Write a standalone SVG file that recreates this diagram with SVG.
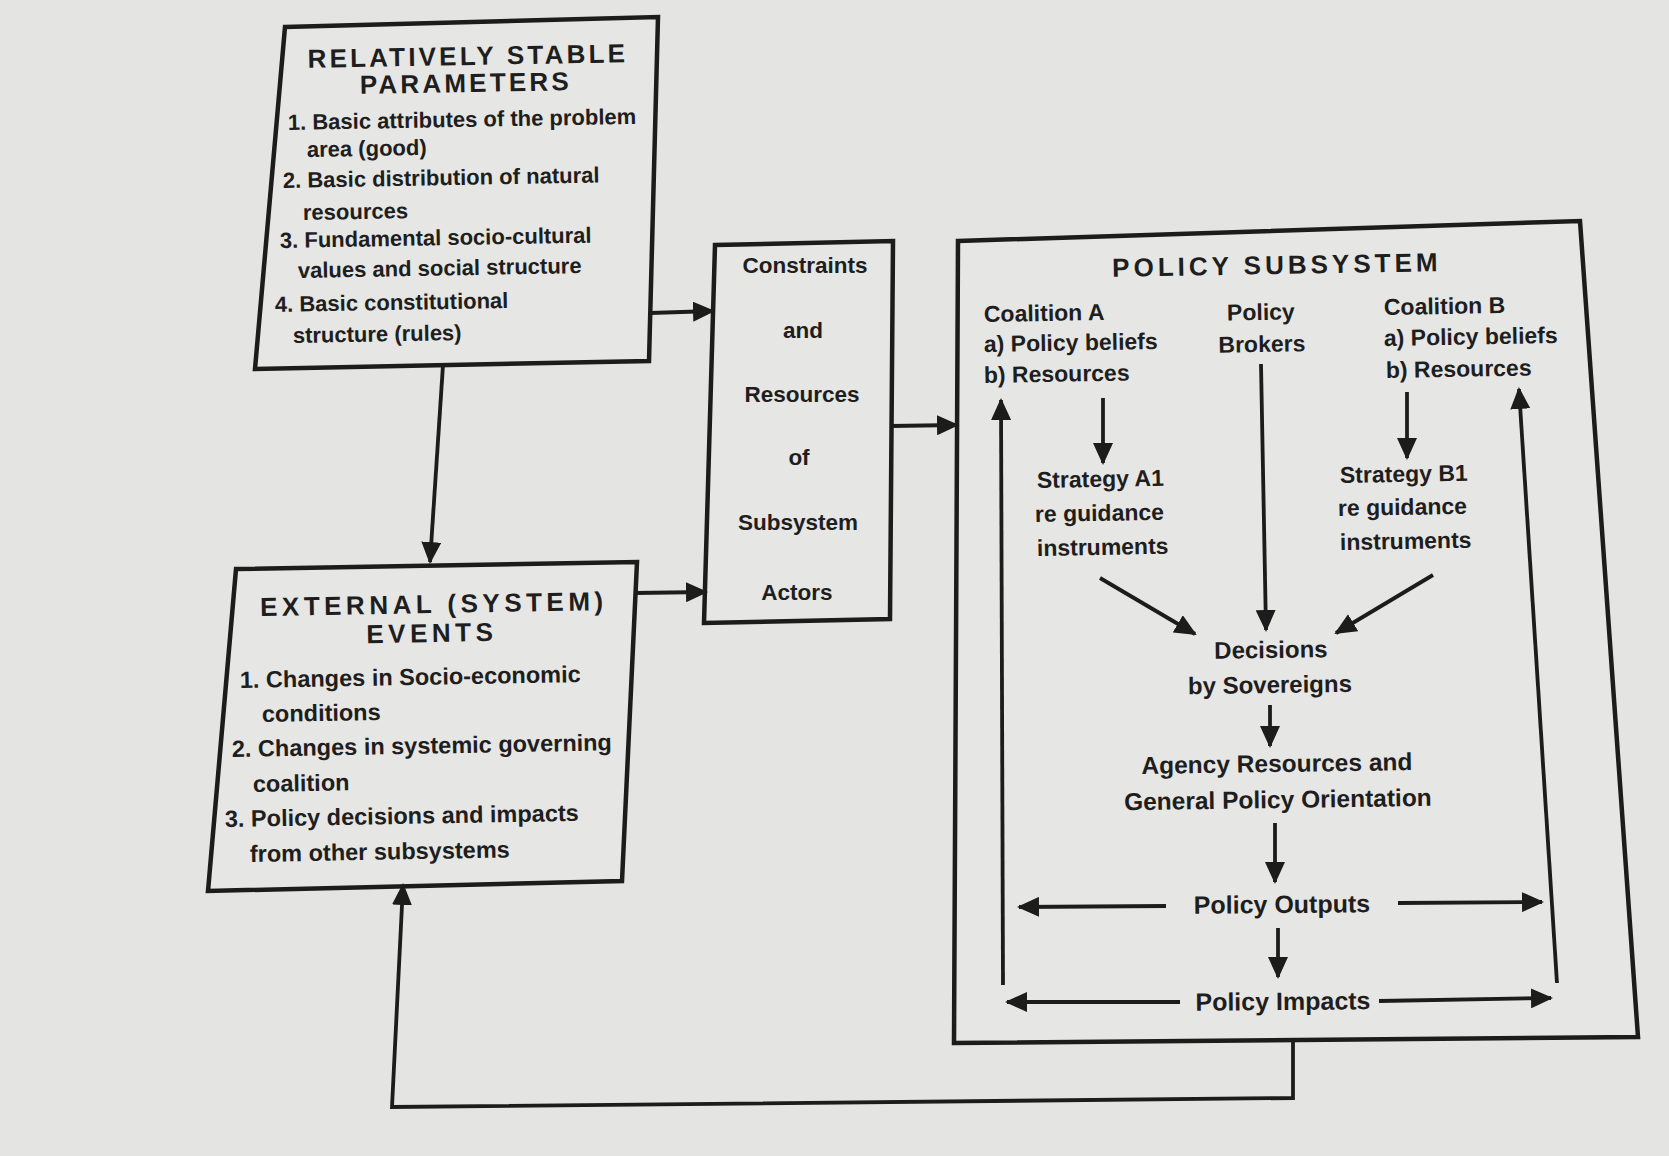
<svg xmlns="http://www.w3.org/2000/svg" width="1669" height="1156" viewBox="0 0 1669 1156">
<style>
.box{fill:#e6e6e4;stroke:#1c1c1c;stroke-width:4.5;stroke-linejoin:miter}
.ln{fill:none;stroke:#1c1c1c;stroke-width:3.8;marker-end:url(#ah)}
text{font-family:"Liberation Sans",Arial,sans-serif;font-weight:bold;fill:#1e1e1e}
.h{font-size:26px;letter-spacing:3.2px;text-anchor:middle}
.s{font-size:22px}
.m{font-size:23px}
.l{font-size:24.5px}
.c{text-anchor:middle}
</style>
<defs>
<marker id="ah" markerUnits="userSpaceOnUse" viewBox="0 0 22 20" refX="20" refY="10" markerWidth="22" markerHeight="20" orient="auto">
<path d="M0,0 L22,10 L0,20 Z" fill="#1c1c1c"/>
</marker>
</defs>
<rect x="0" y="0" width="1669" height="1156" fill="#e4e4e2"/>

<g id="stable-parameters">
<path class="box" d="M285,27 L658,17 L649,361 L255,369 Z"/>
<text class="h" x="468" y="65" transform="rotate(-1 468 65)">RELATIVELY STABLE</text>
<text class="h" x="466" y="92" transform="rotate(-1 466 92)">PARAMETERS</text>
<text class="s" x="288" y="130" transform="rotate(-1 288 130)">1. Basic attributes of the problem</text>
<text class="s" x="307" y="157" transform="rotate(-1 307 157)">area (good)</text>
<text class="s" x="283" y="188" transform="rotate(-1 283 188)">2. Basic distribution of natural</text>
<text class="s" x="303" y="220" transform="rotate(-1 303 220)">resources</text>
<text class="s" x="280" y="248" transform="rotate(-1 280 248)">3. Fundamental socio-cultural</text>
<text class="s" x="298" y="278" transform="rotate(-1 298 278)">values and social structure</text>
<text class="s" x="275" y="312" transform="rotate(-1 275 312)">4. Basic constitutional</text>
<text class="s" x="293" y="343" transform="rotate(-1 293 343)">structure (rules)</text>
</g>

<g id="external-events">
<path class="box" d="M236,569 L637,562 L622,881 L208,891 Z"/>
<text class="h" x="434" y="613" style="letter-spacing:4.5px" transform="rotate(-1 434 613)">EXTERNAL (SYSTEM)</text>
<text class="h" x="432" y="642" style="letter-spacing:4.5px" transform="rotate(-1 432 642)">EVENTS</text>
<text class="m" x="240" y="688" style="font-size:23.5px" transform="rotate(-1 240 688)">1. Changes in Socio-economic</text>
<text class="m" x="262" y="722" style="font-size:23.5px" transform="rotate(-1 262 722)">conditions</text>
<text class="m" x="232" y="757" style="font-size:23.5px" transform="rotate(-1 232 757)">2. Changes in systemic governing</text>
<text class="m" x="253" y="792" style="font-size:23.5px" transform="rotate(-1 253 792)">coalition</text>
<text class="m" x="225" y="827" style="font-size:23.5px" transform="rotate(-1 225 827)">3. Policy decisions and impacts</text>
<text class="m" x="250" y="862" style="font-size:23.5px" transform="rotate(-1 250 862)">from other subsystems</text>
</g>

<g id="constraints-resources">
<path class="box" d="M715,245 L893,241 L890,619 L704,623 Z"/>
<text class="s c" x="805" y="273" style="font-size:22.5px">Constraints</text>
<text class="s c" x="803" y="338" style="font-size:22.5px">and</text>
<text class="s c" x="802" y="402" style="font-size:22.5px">Resources</text>
<text class="s c" x="799" y="465" style="font-size:22.5px">of</text>
<text class="s c" x="798" y="530" style="font-size:22.5px">Subsystem</text>
<text class="s c" x="797" y="600" style="font-size:22.5px">Actors</text>
</g>

<g id="policy-subsystem">
<path class="box" d="M958,241 L1580,221 L1638,1037 L954,1043 Z"/>
<text class="h" x="1277" y="274" style="letter-spacing:4px" transform="rotate(-1 1277 274)">POLICY SUBSYSTEM</text>
</g>

<g id="coalition-a">
<text class="m" x="984" y="322" transform="rotate(-1 984 322)">Coalition A</text>
<text class="m" x="984" y="352" transform="rotate(-1 984 352)">a) Policy beliefs</text>
<text class="m" x="984" y="383" transform="rotate(-1 984 383)">b) Resources</text>
</g>

<g id="policy-brokers">
<text class="m c" x="1261" y="320" transform="rotate(-1 1261 320)">Policy</text>
<text class="m c" x="1262" y="352" transform="rotate(-1 1262 352)">Brokers</text>
</g>

<g id="coalition-b">
<text class="m" x="1384" y="315" transform="rotate(-1 1384 315)">Coalition B</text>
<text class="m" x="1384" y="346" transform="rotate(-1 1384 346)">a) Policy beliefs</text>
<text class="m" x="1386" y="378" transform="rotate(-1 1386 378)">b) Resources</text>
</g>

<g id="strategy-a1">
<text class="m" x="1037" y="488" transform="rotate(-1 1037 488)">Strategy A1</text>
<text class="m" x="1035" y="522" transform="rotate(-1 1035 522)">re guidance</text>
<text class="m" x="1037" y="556" transform="rotate(-1 1037 556)">instruments</text>
</g>

<g id="strategy-b1">
<text class="m" x="1340" y="483" transform="rotate(-1 1340 483)">Strategy B1</text>
<text class="m" x="1338" y="516" transform="rotate(-1 1338 516)">re guidance</text>
<text class="m" x="1340" y="550" transform="rotate(-1 1340 550)">instruments</text>
</g>

<g id="decisions">
<text class="m c" x="1271" y="658" style="font-size:24px" transform="rotate(-0.8 1271 658)">Decisions</text>
<text class="m c" x="1270" y="693" style="font-size:24px" transform="rotate(-0.8 1270 693)">by Sovereigns</text>
</g>

<g id="agency-resources">
<text class="l c" x="1277" y="772" transform="rotate(-0.8 1277 772)">Agency Resources and</text>
<text class="l c" x="1278" y="808" transform="rotate(-0.8 1278 808)">General Policy Orientation</text>
</g>

<g id="policy-outputs">
<text class="l c" x="1282" y="913" style="font-size:25px" transform="rotate(-0.5 1282 913)">Policy Outputs</text>
</g>

<g id="policy-impacts">
<text class="l c" x="1283" y="1010" style="font-size:25px" transform="rotate(-0.5 1283 1010)">Policy Impacts</text>
</g>

<g id="connectors">
<path class="ln" d="M650,313 L713,311"/>
<path class="ln" d="M443,365 L430,562"/>
<path class="ln" d="M635,593 L706,592"/>
<path class="ln" d="M891,426 L957,425"/>
<path class="ln" d="M1293,1041 L1293,1098 L392,1107 L403,885"/>
<path class="ln" d="M1103,398 L1103,463"/>
<path class="ln" d="M1407,392 L1407,458"/>
<path class="ln" d="M1261,364 L1266,630"/>
<path class="ln" d="M1100,578 L1195,634"/>
<path class="ln" d="M1433,575 L1336,633"/>
<path class="ln" d="M1270,705 L1270,746"/>
<path class="ln" d="M1275,823 L1275,882"/>
<path class="ln" d="M1278,928 L1278,977"/>
<path class="ln" d="M1166,906 L1019,907"/>
<path class="ln" d="M1398,903 L1542,902"/>
<path class="ln" d="M1180,1002 L1007,1002"/>
<path class="ln" d="M1379,1001 L1551,998"/>
<path class="ln" d="M1003,985 L1001,400"/>
<path class="ln" d="M1557,983 L1519,389"/>
</g>
</svg>
